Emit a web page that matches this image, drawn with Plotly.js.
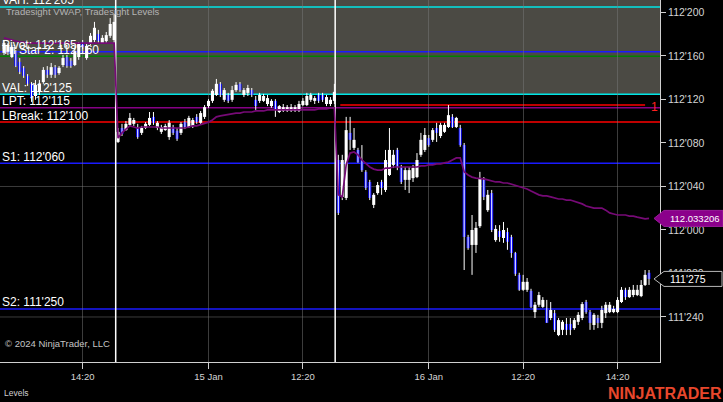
<!DOCTYPE html>
<html>
<head>
<meta charset="utf-8">
<script src="https://cdn.plot.ly/plotly-3.0.1.min.js"></script>
<style>
html,body{margin:0;padding:0;background:#000;}
#chart{width:723px;height:402px;}
</style>
</head>
<body>
<div id="chart"></div>
<script>
// ---- Bar data (bar index order, prices in decimal points) ----
const open = [
112.509,112.512,112.497,112.509,112.483,112.466,112.443,112.420,112.385,112.397,
112.425,112.460,112.446,112.468,112.451,112.474,112.497,112.486,112.474,112.497,
112.540,112.494,112.537,112.546,112.563,112.537,112.543,112.558,112.546,
112.253,112.293,112.287,112.302,112.305,112.296,112.279,112.293,112.302,112.325,
112.293,112.282,112.287,112.267,112.296,112.285,112.279,112.310,112.296,112.299,
112.325,112.308,112.325,112.356,112.371,112.388,112.420,112.374,112.388,112.374,
112.402,112.420,112.388,112.394,112.402,112.374,112.371,112.371,112.362,112.356,
112.371,112.339,112.342,112.342,112.342,112.342,112.342,112.359,112.359,112.374,
112.371,112.388,112.388,112.362,112.362,112.371,
112.201,112.095,112.092,112.279,112.236,112.230,112.201,112.167,112.138,112.072,
112.106,112.138,112.115,112.158,112.187,112.230,112.181,112.144,112.144,112.149,
112.152,112.216,112.230,112.264,112.259,112.293,112.270,112.282,112.296,112.325,
112.296,112.293,112.244,
111.980,111.957,111.957,112.011,112.144,112.057,112.106,111.971,111.997,111.977,
111.994,111.980,111.934,111.871,111.828,111.828,111.825,111.764,111.785,111.779,
111.776,111.747,111.761,111.698,111.713,111.730,111.730,111.718,111.736,111.747,
111.793,111.764,111.727,111.747,111.733,111.761,111.764,111.764,111.764,111.793,
111.828,111.807,111.813,111.813,111.810,111.842,111.877];
const high = [
112.546,112.537,112.532,112.517,112.494,112.471,112.448,112.425,112.431,112.431,
112.468,112.471,112.480,112.474,112.471,112.503,112.503,112.494,112.523,112.540,
112.546,112.535,112.566,112.598,112.575,112.560,112.569,112.609,112.621,
112.293,112.305,112.313,112.336,112.322,112.305,112.299,112.310,112.339,112.339,
112.313,112.302,112.305,112.316,112.302,112.293,112.310,112.319,112.328,112.322,
112.333,112.342,112.359,112.376,112.405,112.434,112.425,112.408,112.394,112.414,
112.425,112.425,112.408,112.417,112.408,112.385,112.394,112.391,112.388,112.376,
112.376,112.359,112.362,112.359,112.362,112.359,112.371,112.379,112.394,112.394,
112.385,112.394,112.394,112.388,112.382,112.420,
112.216,112.216,112.325,112.325,112.293,112.236,112.244,112.172,112.144,112.106,
112.138,112.144,112.230,112.293,112.230,112.236,112.187,112.181,112.181,112.187,
112.221,112.279,112.293,112.273,112.293,112.308,112.308,112.308,112.359,112.333,
112.325,112.302,112.250,
111.986,112.043,112.023,112.167,112.152,112.115,112.115,112.014,112.014,112.023,
112.006,111.986,111.937,111.877,111.871,111.862,111.831,111.793,111.822,111.807,
111.799,111.793,111.770,111.747,111.741,111.747,111.747,111.747,111.764,111.793,
111.799,111.770,111.761,111.756,111.782,111.793,111.793,111.782,111.807,111.836,
111.834,111.836,111.842,111.842,111.856,111.885,111.885];
const low = [
112.503,112.503,112.494,112.468,112.448,112.437,112.414,112.368,112.374,112.388,
112.420,112.437,112.437,112.437,112.446,112.468,112.466,112.466,112.471,112.489,
112.520,112.489,112.532,112.540,112.537,112.535,112.537,112.552,112.537,
112.250,112.270,112.285,112.296,112.299,112.262,112.273,112.290,112.299,112.302,
112.287,112.276,112.285,112.259,112.273,112.256,112.273,112.290,112.293,112.293,
112.305,112.302,112.319,112.351,112.365,112.385,112.382,112.368,112.365,112.368,
112.397,112.397,112.382,112.385,112.382,112.345,112.365,112.368,112.356,112.351,
112.325,112.336,112.339,112.339,112.339,112.339,112.339,112.356,112.356,112.368,
112.362,112.365,112.368,112.356,112.356,112.362,
112.043,112.086,112.086,112.230,112.230,112.193,112.167,112.115,112.086,112.063,
112.101,112.101,112.109,112.155,112.178,112.172,112.132,112.115,112.106,112.138,
112.149,112.210,112.224,112.239,112.253,112.253,112.264,112.279,112.293,112.293,
112.293,112.239,111.885,
111.943,111.871,111.934,112.006,112.086,112.052,111.994,111.966,111.966,111.963,
111.943,111.920,111.868,111.825,111.825,111.822,111.776,111.747,111.779,111.776,
111.733,111.741,111.707,111.695,111.698,111.698,111.698,111.713,111.727,111.741,
111.759,111.713,111.713,111.718,111.718,111.747,111.761,111.761,111.761,111.790,
111.799,111.805,111.807,111.810,111.807,111.839,111.842];
const close = [
112.537,112.532,112.526,112.471,112.454,112.443,112.420,112.379,112.417,112.420,
112.460,112.446,112.468,112.446,112.466,112.494,112.471,112.471,112.514,112.535,
112.526,112.529,112.558,112.581,112.543,112.552,112.560,112.592,112.598,
112.282,112.276,112.305,112.322,112.316,112.267,112.293,112.305,112.322,112.308,
112.308,112.296,112.299,112.308,112.279,112.262,112.305,112.296,112.322,112.316,
112.310,112.336,112.353,112.371,112.400,112.420,112.388,112.402,112.371,112.402,
112.417,112.402,112.402,112.408,112.388,112.356,112.388,112.385,112.379,112.371,
112.345,112.356,112.353,112.353,112.353,112.353,112.362,112.371,112.385,112.388,
112.379,112.371,112.374,112.382,112.374,112.397,
112.049,112.201,112.287,112.259,112.259,112.195,112.172,112.121,112.092,112.101,
112.129,112.121,112.201,112.230,112.216,112.181,112.138,112.172,112.172,112.178,
112.201,112.259,112.273,112.244,112.287,112.279,112.302,112.302,112.330,112.296,
112.322,112.244,111.980,
111.948,112.000,112.006,112.149,112.095,112.101,112.000,112.003,111.980,112.000,
111.966,111.934,111.874,111.828,111.851,111.851,111.779,111.785,111.813,111.799,
111.733,111.770,111.713,111.741,111.736,111.713,111.713,111.741,111.756,111.787,
111.764,111.733,111.756,111.733,111.770,111.785,111.785,111.773,111.799,111.828,
111.807,111.828,111.828,111.828,111.842,111.871,111.859375];
const vwap = [
112.552,112.549,112.546,112.543,112.540,112.540,112.537,112.537,112.537,112.537,
112.537,112.537,112.537,112.537,112.537,112.537,112.537,112.537,112.537,112.537,
112.537,112.537,112.537,112.537,112.537,112.537,112.537,112.537,112.537,
112.264,112.279,112.290,112.299,112.296,112.293,112.296,112.296,112.296,112.296,
112.296,112.293,112.293,112.293,112.293,112.293,112.293,112.293,112.296,112.299,
112.299,112.302,112.305,112.310,112.316,112.325,112.328,112.330,112.333,112.333,
112.336,112.336,112.339,112.339,112.339,112.342,112.342,112.342,112.345,112.345,
112.345,112.345,112.345,112.345,112.345,112.345,112.345,112.345,112.345,112.345,
112.345,112.348,112.348,112.348,112.351,112.351,
112.101,112.095,112.187,112.221,112.224,112.216,112.201,112.190,112.181,112.175,
112.172,112.172,112.178,112.178,112.181,112.181,112.181,112.181,112.181,112.181,
112.181,112.184,112.184,112.187,112.187,112.190,112.190,112.193,112.195,112.201,
112.207,112.207,112.167,
112.158,112.152,112.149,112.149,112.147,112.144,112.141,112.138,112.138,112.135,
112.135,112.132,112.129,112.126,112.121,112.118,112.112,112.106,112.101,112.098,
112.098,112.095,112.092,112.089,112.089,112.086,112.086,112.083,112.080,112.075,
112.069,112.066,112.063,112.063,112.063,112.057,112.049,112.046,112.043,112.043,
112.043,112.040,112.040,112.037,112.034,112.032,112.033206];

// ---- Axis ticks ----
const xTickBars = [20, 52, 76, 108, 132, 156];
const xTickText = ['14:20', '15 Jan', '12:20', '16 Jan', '12:20', '14:20'];
const yTickVals = [112.625, 112.5, 112.375, 112.25, 112.125, 112.0, 111.875, 111.75];
const yGridVals = [112.125, 111.75];
const sessionBreaks = [28.4, 84.2];

// ---- Levels ----
const levelNames  = ['VAH', 'Pivot', 'Tri Star 2', 'VAL', 'LPT', 'LBreak', 'S1', 'S2'];
const levelPrices = [112.640625, 112.515625, 112.5, 112.390625, 112.359375, 112.3125, 112.1875, 111.78125];
const levelLines  = [112.641, 112.512, 112.499, 112.390, 112.351, 112.310, 112.192, 111.773];
const levelColors = ['#00e6e6', '#1a1aff', '#008000', '#00e6e6', '#860086', '#ff0000', '#1a1aff', '#1a1aff'];
const orderPrice = 112.359;
const orderBars = [85.5, 163];
const orderLabel = '1';
const vwapLabel = '112.033206';

function fmt32(p) {
  const whole = Math.floor(p + 1e-9);
  const t = Math.round((p - whole) * 320);
  return whole + "'" + String(t).padStart(3, '0');
}

const n = close.length;
const idx = Array.from({length: n}, (_, i) => i);
const wx = [], wy = [];
for (let i = 0; i < n; i++) { wx.push(i, i, null); wy.push(high[i], low[i], null); }
const bodyBase = idx.map(i => Math.min(open[i], close[i]));
const bodyLen = idx.map(i => Math.abs(close[i] - open[i]));
const bodyColor = idx.map(i => close[i] >= open[i] ? '#ffffff' : '#0a0aff');

const yRange = [111.6206, 112.6609];
const xRange = [-1.017, 166.79];
const FONT = 'Arial, "Liberation Sans", sans-serif';

const traces = [
  {type: 'scatter', mode: 'lines', x: wx, y: wy, line: {color: '#ffffff', width: 1},
   hoverinfo: 'skip', showlegend: false},
  {type: 'bar', x: idx, y: bodyLen, base: bodyBase, width: 0.78,
   marker: {color: bodyColor, line: {width: 0}}, hoverinfo: 'skip', showlegend: false},
  {type: 'scatter', mode: 'lines', x: idx, y: vwap, line: {color: '#760a76', width: 1.7},
   hoverinfo: 'skip', showlegend: false}
];

const shapes = [];
shapes.push({type: 'rect', xref: 'paper', x0: 0, x1: 1, yref: 'y', y0: levelLines[3], y1: yRange[1],
  fillcolor: '#4b4a44', line: {width: 0}, layer: 'below'});
yGridVals.forEach(v => shapes.push({type: 'line', xref: 'paper', x0: 0, x1: 1, yref: 'y', y0: v, y1: v,
  line: {color: '#3c3c3c', width: 1}, layer: 'below'}));
levelLines.forEach((v, k) => shapes.push({type: 'line', xref: 'paper', x0: 0, x1: 1, yref: 'y', y0: v, y1: v,
  line: {color: levelColors[k], width: 1.5}, layer: 'below'}));
shapes.push({type: 'line', xref: 'x', x0: orderBars[0], x1: orderBars[1], yref: 'y', y0: orderPrice, y1: orderPrice,
  line: {color: '#ff0000', width: 1.4}, layer: 'below'});
sessionBreaks.forEach(b => shapes.push({type: 'line', xref: 'x', x0: b, x1: b, yref: 'paper', y0: 0, y1: 1,
  line: {color: '#ffffff', width: 1.5}, layer: 'below'}));
const lastVwap = vwap[n - 1];
const lastClose = close[n - 1];
shapes.push({type: 'path', xref: 'paper', xsizemode: 'pixel', xanchor: 1, yref: 'y', ysizemode: 'pixel', yanchor: lastVwap,
  path: 'M -6,0 L 4,8 L 63,8 L 63,-8 L 4,-8 Z', fillcolor: '#8b008b', line: {color: '#9a1a9a', width: 1}, layer: 'above'});
shapes.push({type: 'path', xref: 'paper', xsizemode: 'pixel', xanchor: 1, yref: 'y', ysizemode: 'pixel', yanchor: lastClose,
  path: 'M -6,0 L 4,7.5 L 62,7.5 L 62,-7.5 L 4,-7.5 Z', fillcolor: '#000000', line: {color: '#b8b8b8', width: 1}, layer: 'above'});

const annotations = [];
levelNames.forEach((nm, k) => annotations.push({xref: 'paper', x: 0, xanchor: 'left', yref: 'y', y: levelLines[k],
  yanchor: 'middle', yshift: 6.5, text: nm + ': ' + fmt32(levelPrices[k]), showarrow: false,
  font: {family: FONT, size: 12, color: '#ffffff'}}));
annotations.push({xref: 'paper', x: 0, xanchor: 'left', xshift: 4, yref: 'paper', y: 1, yanchor: 'middle', yshift: -11,
  text: 'Tradesight VWAP, Tradesight Levels', showarrow: false, font: {family: FONT, size: 9.5, color: '#b4b4b4'}});
annotations.push({xref: 'paper', x: 0, xanchor: 'left', xshift: 3, yref: 'paper', y: 0, yanchor: 'middle', yshift: 19,
  text: '© 2024 NinjaTrader, LLC', showarrow: false, font: {family: FONT, size: 9.5, color: '#c4c4c4'}});
annotations.push({xref: 'paper', x: 0, xanchor: 'left', xshift: 2, yref: 'paper', y: 0, yanchor: 'middle', yshift: -31,
  text: 'Levels', showarrow: false, font: {family: FONT, size: 8.5, color: '#d0d0d0'}});
annotations.push({xref: 'paper', x: 1, xanchor: 'right', xshift: 64, yref: 'paper', y: 0, yanchor: 'middle', yshift: -31,
  text: '<b>NINJATRADER</b>', showarrow: false, font: {family: FONT, size: 16, color: '#e8472c'}});
annotations.push({xref: 'paper', x: 1, xanchor: 'center', xshift: -6, yref: 'y', y: orderPrice, yanchor: 'middle', yshift: -1.5,
  text: orderLabel, showarrow: false, font: {family: FONT, size: 12, color: '#ff2020'}});
annotations.push({xref: 'paper', x: 1, xanchor: 'left', xshift: 8, yref: 'y', y: lastVwap, yanchor: 'middle',
  text: vwapLabel, showarrow: false, font: {family: FONT, size: 9.5, color: '#ffffff'}});
annotations.push({xref: 'paper', x: 1, xanchor: 'left', xshift: 8, yref: 'y', y: lastClose, yanchor: 'middle',
  text: fmt32(lastClose), showarrow: false, font: {family: FONT, size: 10.5, color: '#ffffff'}});

const layout = {
  width: 723, height: 402,
  margin: {l: 0, r: 63, t: 0, b: 40, pad: 0},
  paper_bgcolor: '#000000', plot_bgcolor: '#000000',
  showlegend: false, barmode: 'overlay',
  font: {family: FONT, color: '#d0d0d0'},
  xaxis: {type: 'linear', range: xRange, tickmode: 'array', tickvals: xTickBars, ticktext: xTickText,
    showgrid: true, gridcolor: 'rgba(120,120,120,0.5)', gridwidth: 1, zeroline: false,
    showline: true, linecolor: '#d0d0d0', linewidth: 1, ticks: 'outside', ticklen: 6, tickcolor: '#d0d0d0',
    tickfont: {family: FONT, size: 9.5, color: '#d4d4d4'}, fixedrange: true, automargin: false},
  yaxis: {side: 'right', range: yRange, tickmode: 'array', tickvals: yTickVals, ticktext: yTickVals.map(fmt32),
    showgrid: false, zeroline: false, showline: true, linecolor: '#d0d0d0', linewidth: 1,
    ticks: 'outside', ticklen: 5, tickcolor: '#d0d0d0',
    tickfont: {family: FONT, size: 10.5, color: '#d4d4d4'}, fixedrange: true, automargin: false},
  shapes: shapes, annotations: annotations
};

Plotly.newPlot('chart', traces, layout, {staticPlot: true, displayModeBar: false});
</script>
</body>
</html>
